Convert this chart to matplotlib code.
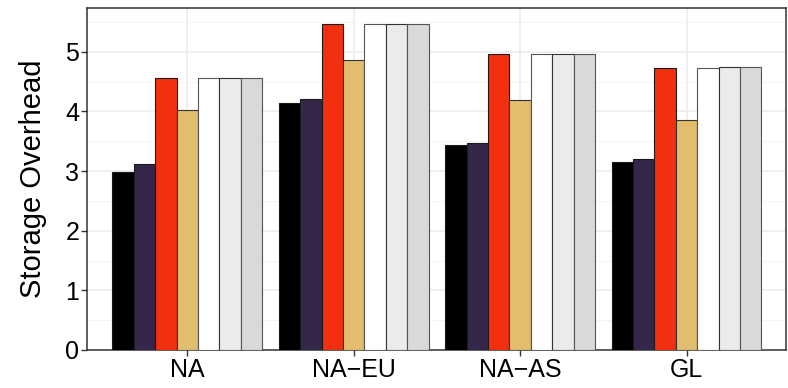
import numpy as np
import matplotlib.pyplot as plt
from matplotlib.ticker import MultipleLocator

plt.rcParams['font.family'] = ['Liberation Sans', 'DejaVu Sans']

groups = ['NA', 'NA\u2212EU', 'NA\u2212AS', 'GL']
s1 = [2.98, 4.15, 3.44, 3.15]
s2 = [3.12, 4.21, 3.48, 3.20]
s3 = [4.56, 5.46, 4.97, 4.73]
s4 = [4.03, 4.87, 4.19, 3.85]
s5 = [4.56, 5.46, 4.97, 4.73]
s6 = [4.56, 5.46, 4.97, 4.74]
s7 = [4.56, 5.46, 4.97, 4.74]
series = [s1, s2, s3, s4, s5, s6, s7]

fills = ['#000000', '#35274A', '#F2300F', '#E1BD6D', '#FFFFFF', '#EBEBEB', '#D9D9D9']
edges = ['#1a1a1a', '#1a1a1a', '#1a1a1a', '#333333', '#555555', '#333333', '#555555']

fig = plt.figure(figsize=(7.88, 3.88), dpi=100)
ax = fig.add_axes([0.111, 0.098, 0.887, 0.882])

x = np.arange(1, len(groups) + 1)
w = 0.9 / len(series)
for i, vals in enumerate(series):
    off = (i - (len(series) - 1) / 2) * w
    ax.bar(x + off, vals, width=w, color=fills[i], edgecolor=edges[i],
           linewidth=0.8, zorder=3)

ax.set_xlim(0.4, 4.6)
ax.set_ylim(0, 5.74)
ax.set_xticks(x)
ax.set_xticklabels(groups)
ax.yaxis.set_major_locator(MultipleLocator(1))
ax.yaxis.set_minor_locator(MultipleLocator(0.5))
ax.grid(True, which='major', color='#EBEBEB', linewidth=1.1, zorder=0)
ax.grid(True, which='minor', axis='y', color='#F3F3F3', linewidth=0.6, zorder=0)
ax.tick_params(axis='both', which='major', labelsize=18, length=4,
               color='#333333', width=1, labelcolor='black', pad=2)
ax.tick_params(axis='y', which='minor', length=0)
for sp in ax.spines.values():
    sp.set_color('#333333')
    sp.set_linewidth(1.1)
ax.set_ylabel('Storage Overhead', fontsize=21, labelpad=13)

fig.savefig('out.png', dpi=100)
